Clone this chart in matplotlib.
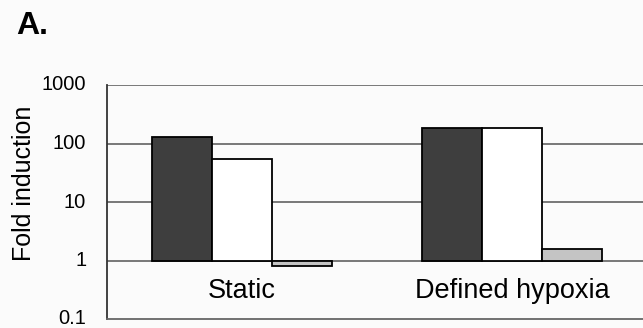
import numpy as np
import matplotlib
matplotlib.use('Agg')
import matplotlib.pyplot as plt

plt.rcParams['font.family'] = ['Liberation Sans', 'DejaVu Sans']

# data
categories = ['Static', 'Defined hypoxia']
series_dark = [128, 185]
series_white = [55, 185]
series_gray = [0.8, 1.55]
yticks = [0.1, 1, 10, 100, 1000]
ytick_labels = ['0.1', '1', '10', '100', '1000']

fig = plt.figure(figsize=(6.43, 3.28), dpi=100)
fig.patch.set_facecolor('#fbfbfb')
ax = fig.add_axes([107/643, 9/328, 540/643, 234/328])
ax.set_facecolor('#fbfbfb')

x = np.arange(len(categories))
w = 0.222
base = 1.0
# bars grow from 1 (log baseline)
ax.bar(x - w, np.array(series_dark) - base, w, bottom=base, color='#3e3e3e',
       edgecolor='black', linewidth=1.3, zorder=3)
ax.bar(x, np.array(series_white) - base, w, bottom=base, color='white',
       edgecolor='black', linewidth=1.3, zorder=3)
ax.bar(x + w, np.array(series_gray) - base, w, bottom=base, color='#c4c4c4',
       edgecolor='black', linewidth=1.3, zorder=3)

ax.set_yscale('log')
ax.set_ylim(0.1, 1000)
ax.set_xlim(-0.5, 1.5)
ax.set_yticks(yticks)
ax.set_yticklabels(ytick_labels, fontsize=14.5)
ax.yaxis.set_minor_locator(matplotlib.ticker.NullLocator())
ax.tick_params(axis='y', length=0, pad=15)
ax.set_xticks([])
for lbl in ax.get_yticklabels():
    lbl.set_va('center')

for yv in [1, 10, 100, 1000]:
    ax.axhline(yv, color='#555555', linewidth=1.1, zorder=1)

for i, c in enumerate(categories):
    ax.text(x[i], 0.3, c, ha='center', va='center', fontsize=19.5)

ax.spines['right'].set_visible(False)
ax.spines['top'].set_visible(False)
ax.spines['left'].set_color('#333333')
ax.spines['left'].set_linewidth(1.3)
ax.spines['bottom'].set_color('#666666')
ax.spines['bottom'].set_linewidth(1.3)

ax.set_ylabel('Fold induction', fontsize=18)
ax.yaxis.set_label_coords(-0.132, 0.579)

fig.text(16/643, 1 - 26/328, 'A.', fontsize=23, fontweight='bold', va='center', ha='left')

fig.savefig('out.png', dpi=100, facecolor=fig.get_facecolor())
